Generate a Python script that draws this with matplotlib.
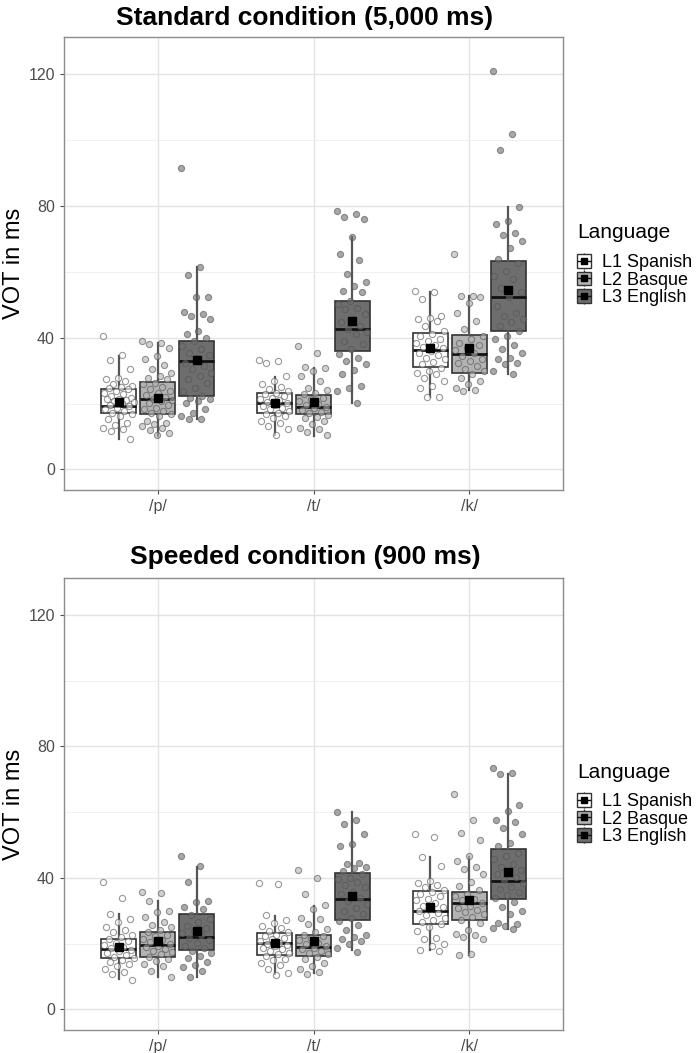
import matplotlib.pyplot as plt
from matplotlib.patches import Patch
from matplotlib.lines import Line2D
from matplotlib.legend_handler import HandlerTuple

plt.rcParams['font.family'] = ['Liberation Sans', 'DejaVu Sans']

consonants = ['/p/', '/t/', '/k/']
languages = ['L1 Spanish', 'L2 Basque', 'L3 English']
fills = ['#ffffff', '#b3b3b3', '#6e6e6e']

# box statistics, order: p-L1, p-L2, p-L3, t-L1, t-L2, t-L3, k-L1, k-L2, k-L3
std_q1 = [17.0, 16.7, 22.3, 17.0, 16.7, 35.9, 31.2, 29.2, 42.0]
std_med = [19.1, 21.3, 32.9, 20.3, 19.0, 42.5, 36.3, 34.9, 52.2]
std_q3 = [24.3, 26.5, 38.9, 23.2, 22.6, 51.1, 41.5, 40.7, 63.3]
std_lo = [9.1, 10.1, 15.2, 10.4, 10.1, 20.3, 22.0, 24.1, 28.9]
std_hi = [34.4, 38.5, 61.3, 28.2, 30.9, 70.6, 53.7, 52.7, 79.5]
std_mean = [20.6, 21.8, 33.2, 20.3, 20.6, 45.1, 36.7, 36.7, 54.5]

spd_q1 = [15.6, 16.1, 18.1, 16.5, 16.4, 27.1, 26.1, 27.1, 33.7]
spd_med = [18.3, 19.7, 22.0, 20.1, 19.0, 33.5, 29.9, 32.4, 39.2]
spd_q3 = [21.3, 23.5, 28.9, 23.2, 22.8, 41.6, 36.0, 35.6, 48.8]
spd_lo = [9.3, 9.8, 10.0, 10.9, 11.2, 18.0, 18.0, 16.5, 24.6]
spd_hi = [28.9, 33.1, 43.4, 28.4, 31.5, 60.2, 46.3, 46.5, 71.6]
spd_mean = [18.9, 20.8, 23.8, 20.3, 20.8, 34.5, 31.1, 33.2, 41.8]

# individual VOT values (standard condition)
std_p_l1 = [40.5, 34.6, 33.2, 30.4, 27.8, 27.3, 26.8, 25.8, 25.3, 25.1, 24.8, 24.3, 23.8,
            23.3, 22.8, 22.3, 21.8, 21.5, 21.3, 21.1, 20.8, 20.5, 20.3, 19.7, 19.2, 18.7,
            18.2, 17.7, 17.2, 16.7, 16.2, 15.2, 14.2, 13.4, 12.7, 12.2, 11.6, 9.1]
std_p_l2 = [39.0, 38.5, 38.0, 37.0, 34.4, 33.4, 31.6, 30.4, 29.4, 28.4, 27.8, 27.3, 26.3,
            25.8, 25.1, 24.3, 23.8, 23.3, 22.5, 22.1, 21.5, 21.1, 20.8, 20.3, 19.4, 18.7,
            18.2, 17.7, 17.2, 16.7, 16.2, 14.7, 14.2, 13.7, 13.2, 12.7, 11.9, 11.1, 10.3]
std_p_l3 = [91.4, 61.3, 58.9, 52.2, 52.2, 47.8, 47.3, 46.6, 45.6, 42.0, 41.0, 40.0, 39.0,
            37.5, 36.5, 35.4, 34.6, 33.9, 32.4, 31.4, 30.4, 29.4, 28.4, 27.3, 26.3, 24.8,
            23.8, 22.3, 21.8, 21.3, 20.8, 20.3, 18.2, 17.2, 16.2, 15.4, 15.2]
std_t_l1 = [33.2, 32.9, 32.4, 28.4, 26.8, 25.8, 25.0, 24.5, 23.8, 23.3, 22.8, 22.3, 21.8,
            21.3, 21.0, 20.6, 20.2, 19.7, 19.2, 18.7, 18.2, 17.7, 17.2, 16.7, 16.2, 15.5,
            14.7, 14.2, 13.2, 12.2, 10.4]
std_t_l2 = [37.5, 35.4, 31.1, 30.9, 29.9, 28.4, 26.8, 24.8, 24.0, 23.3, 22.8, 21.8, 21.3,
            20.8, 19.9, 19.5, 18.9, 18.5, 17.9, 17.5, 17.1, 16.5, 15.9, 15.5, 14.7, 13.7,
            12.7, 12.2, 11.4, 10.4]
std_t_l3 = [78.5, 77.5, 76.7, 75.9, 70.6, 65.5, 63.5, 59.2, 57.0, 55.7, 54.2, 53.7, 51.1,
            50.1, 49.1, 48.6, 47.1, 45.6, 44.6, 43.5, 42.5, 41.8, 41.0, 39.0, 38.0, 36.5,
            34.9, 33.9, 32.9, 31.9, 30.1, 28.9, 25.3, 24.8, 23.8, 20.3]
std_k_l1 = [54.2, 53.7, 51.8, 46.6, 46.1, 45.8, 45.1, 43.5, 42.0, 41.0, 40.5, 39.7, 39.0,
            38.5, 37.7, 37.3, 36.7, 35.9, 35.4, 34.6, 33.9, 33.4, 32.6, 31.9, 30.9, 29.9,
            29.4, 28.9, 27.8, 26.8, 25.3, 24.8, 22.1, 22.0]
std_k_l2 = [65.5, 52.7, 52.5, 52.2, 50.6, 47.4, 45.1, 42.5, 40.5, 39.5, 38.5, 37.7, 37.0,
            36.3, 35.4, 34.4, 33.6, 32.9, 32.2, 31.4, 30.6, 29.9, 28.9, 27.8, 26.8, 25.8,
            24.8, 24.1, 23.8]
std_k_l3 = [120.8, 101.8, 96.9, 79.5, 75.4, 74.4, 71.7, 71.1, 69.4, 67.3, 64.0, 62.8, 60.3,
            58.7, 57.7, 55.2, 53.7, 52.2, 49.6, 47.6, 46.6, 45.6, 44.6, 43.5, 42.0, 40.5,
            39.5, 37.7, 36.5, 35.4, 33.9, 33.4, 32.4, 31.9, 29.9, 28.9]

# individual VOT values (speeded condition)
spd_p_l1 = [38.7, 33.9, 29.1, 27.5, 26.5, 25.2, 24.2, 23.5, 22.8, 22.0, 21.4, 20.8, 20.2,
            19.7, 19.1, 18.7, 18.1, 17.7, 17.1, 16.7, 16.1, 15.7, 15.1, 14.4, 13.7, 13.1,
            12.4, 11.3, 10.8, 9.0]
spd_p_l2 = [35.6, 35.3, 33.1, 30.1, 29.6, 28.1, 26.5, 25.8, 25.0, 24.2, 23.5, 22.8, 22.2,
            21.5, 21.0, 20.5, 19.9, 19.4, 18.9, 18.4, 17.9, 17.4, 16.9, 16.1, 15.4, 14.7,
            13.9, 13.1, 11.6, 9.8]
spd_p_l3 = [46.6, 43.7, 38.7, 33.1, 32.6, 31.3, 30.6, 28.6, 27.5, 26.5, 25.5, 24.8, 24.0,
            23.2, 22.5, 21.8, 21.0, 20.2, 19.4, 18.7, 17.9, 17.1, 16.4, 15.7, 14.4, 13.4,
            12.9, 11.8, 10.0]
spd_t_l1 = [38.6, 38.1, 28.7, 27.1, 26.4, 25.4, 24.7, 23.9, 23.5, 22.8, 22.3, 21.8, 21.3,
            20.8, 20.3, 20.0, 19.6, 19.2, 18.8, 18.3, 17.8, 17.3, 16.8, 16.2, 15.5, 14.9,
            14.2, 13.5, 12.2, 11.2, 10.5]
spd_t_l2 = [42.3, 40.1, 35.0, 31.8, 30.5, 27.7, 27.6, 25.9, 24.4, 23.7, 22.8, 22.3, 21.6,
            21.0, 20.3, 19.8, 19.3, 18.8, 18.3, 17.8, 17.3, 16.8, 15.9, 15.2, 14.2, 13.2,
            12.2, 11.5, 10.9]
spd_t_l3 = [60.2, 57.6, 56.5, 53.3, 50.3, 49.6, 44.4, 44.2, 43.4, 42.9, 42.1, 41.1, 40.1,
            39.6, 38.9, 37.9, 37.1, 35.8, 35.0, 34.0, 33.0, 32.0, 31.0, 29.9, 28.9, 27.9,
            26.9, 25.7, 24.1, 22.8, 22.0, 21.3, 20.8, 20.0, 18.8, 17.6]
spd_k_l1 = [53.4, 52.6, 46.3, 43.5, 39.0, 38.4, 38.0, 37.2, 36.4, 35.7, 35.2, 34.4, 33.7,
            33.2, 32.4, 31.6, 31.1, 30.6, 29.9, 29.3, 28.6, 27.9, 27.3, 26.6, 25.9, 25.1,
            23.9, 21.8, 21.5, 19.8, 19.2, 18.2, 17.8]
spd_k_l2 = [65.5, 57.6, 53.6, 51.6, 46.8, 45.3, 43.3, 42.8, 41.3, 38.7, 37.7, 36.2, 35.2,
            34.4, 33.7, 33.2, 32.4, 31.6, 30.9, 30.3, 29.6, 28.9, 28.1, 27.1, 26.3, 24.3,
            23.1, 22.5, 22.0, 21.5, 16.8, 16.5]
spd_k_l3 = [73.6, 71.8, 71.6, 62.3, 60.5, 57.6, 56.9, 55.2, 53.4, 50.6, 49.8, 47.5, 46.8,
            45.8, 44.1, 43.3, 42.5, 41.8, 41.1, 40.2, 39.4, 38.4, 37.4, 36.7, 35.7, 34.7,
            34.0, 32.7, 31.3, 29.9, 29.1, 26.3, 25.9, 25.3, 24.9, 24.6]

panels = [
    ('Standard condition (5,000 ms)',
     [std_p_l1, std_p_l2, std_p_l3, std_t_l1, std_t_l2, std_t_l3, std_k_l1, std_k_l2, std_k_l3],
     std_q1, std_med, std_q3, std_lo, std_hi, std_mean),
    ('Speeded condition (900 ms)',
     [spd_p_l1, spd_p_l2, spd_p_l3, spd_t_l1, spd_t_l2, spd_t_l3, spd_k_l1, spd_k_l2, spd_k_l3],
     spd_q1, spd_med, spd_q3, spd_lo, spd_hi, spd_mean),
]

fig = plt.figure(figsize=(6.96, 10.53), dpi=100)
W, H = 696, 1053
axes_px = [(64, 37, 563, 490), (64, 578, 563, 1030)]
title_y = [18, 557]
legend_title_y = [233, 772]

for k, (title, pts, q1, med, q3, lo, hi, mean) in enumerate(panels):
    x0, y0, x1, y1 = axes_px[k]
    ax = fig.add_axes([x0 / W, 1 - y1 / H, (x1 - x0) / W, (y1 - y0) / H])

    for i in range(9):
        ci, li = divmod(i, 3)
        pos = ci + 1 + (li - 1) * 0.25
        stats = [dict(med=med[i], q1=q1[i], q3=q3[i], whislo=lo[i], whishi=hi[i], fliers=[])]
        ax.bxp(stats, positions=[pos], widths=0.225, patch_artist=True, showcaps=False,
               boxprops=dict(facecolor=fills[li], edgecolor='#333333', linewidth=1.2),
               whiskerprops=dict(color='#555555', linewidth=1.6),
               medianprops=dict(color='#111111', linewidth=2),
               manage_ticks=False, zorder=2)
        vals = pts[i]
        # fixed jitter pattern
        xs = [pos + ((j * 0.618034) % 1 - 0.5) * 0.2 for j in range(len(vals))]
        ax.scatter(xs, vals, s=20, facecolors=fills[li], edgecolors='#555555',
                   linewidths=0.8, alpha=0.6, zorder=3)
        ax.plot([pos], [mean[i]], marker='s', color='black', markersize=6, zorder=4)

    ax.set_xlim(0.4, 3.6)
    ax.set_ylim(-6.25, 131.25)
    ax.set_xticks([1, 2, 3])
    ax.set_xticklabels(consonants)
    ax.set_yticks([0, 40, 80, 120])
    ax.set_yticks([20, 60, 100], minor=True)
    ax.grid(which='major', color='#e3e3e3', linewidth=1.0, zorder=0)
    ax.grid(which='minor', axis='y', color='#eeeeee', linewidth=0.6, zorder=0)
    ax.set_axisbelow(True)
    ax.tick_params(axis='both', which='major', labelsize=11.5, labelcolor='#4d4d4d',
                   color='#4d4d4d', length=3)
    ax.tick_params(axis='y', which='minor', length=0)
    for sp in ax.spines.values():
        sp.set_color('#8c8c8c')
        sp.set_linewidth(1.0)
    ax.set_ylabel('VOT in ms', fontsize=17)
    ax.yaxis.set_label_coords(-0.078, 0.5)

    fig.text(305 / W, 1 - title_y[k] / H, title, fontsize=19, fontweight='bold',
             ha='center', va='center')

    fig.text(577 / W, 1 - legend_title_y[k] / H, 'Language', fontsize=15,
             ha='left', va='center')
    handles = []
    for li in range(3):
        vline = Line2D([], [], marker='|', markersize=12, color='#333333', linestyle='none')
        box = Patch(facecolor=fills[li], edgecolor='#333333', linewidth=1)
        hline = Line2D([], [], marker='_', markersize=10, color='#111111', linestyle='none')
        sq = Line2D([], [], marker='s', markersize=4, color='black', linestyle='none')
        handles.append((vline, box, hline, sq))
    ax.legend(handles, languages, loc='upper left',
              bbox_to_anchor=(577 / W, 1 - (legend_title_y[k] + 21) / H),
              bbox_transform=fig.transFigure, frameon=False, fontsize=13,
              handlelength=0.8, handleheight=0.8,
              handletextpad=0.6, labelspacing=0.02, borderpad=0, borderaxespad=0,
              handler_map={tuple: HandlerTuple(ndivide=1, pad=0)})

fig.savefig('out.png', dpi=100)
